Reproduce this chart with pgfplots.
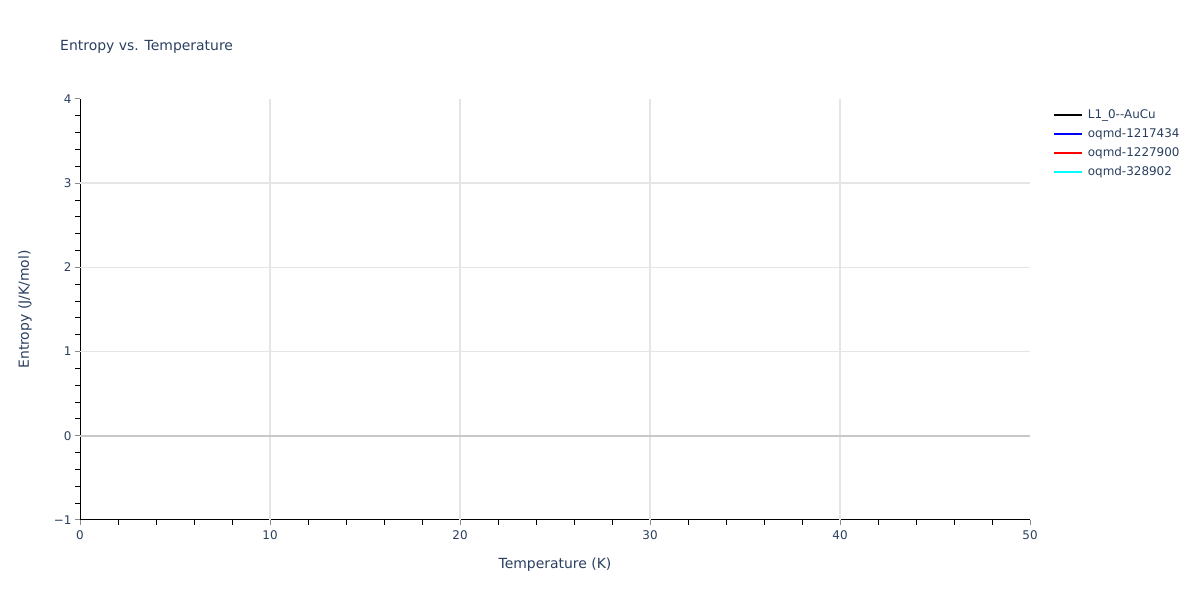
\documentclass[border=0pt]{standalone}
\usepackage{pgfplots}
\pgfplotsset{compat=1.18}
\usepackage{fontspec}
\setmainfont{DejaVu Sans}
\definecolor{plotlytext}{HTML}{2A3F5F}
\definecolor{gridgray}{HTML}{E5E5E5}
\definecolor{zerogray}{HTML}{C8C8C8}
\definecolor{tickgray}{HTML}{8A8A8A}
\definecolor{lineblack}{RGB}{0,0,0}
\definecolor{lineblue}{RGB}{0,0,255}
\definecolor{linered}{RGB}{255,0,0}
\definecolor{linecyan}{RGB}{0,255,255}
\begin{document}
\begin{tikzpicture}[x=1bp,y=1bp]
\path[use as bounding box] (0,0) rectangle (1200,600);
\begin{axis}[
  at={(80bp,80bp)}, anchor=south west,
  scale only axis, width=950bp, height=421bp,
  xmin=0, xmax=50, ymin=-1, ymax=4,
  axis x line*=bottom, axis y line*=left,
  axis line style={black, line width=1bp, -},
  xtick={0,10,...,50}, minor x tick num=4,
  ytick={-1,0,...,4}, minor y tick num=4,
  yticklabels={−1,0,1,2,3,4},
  tick align=outside,
  major tick length=5bp, minor tick length=5bp,
  major tick style={tickgray, line width=1bp},
  minor tick style={black, line width=1bp},
  extra x ticks={10,20,30,40}, extra x tick labels={},
  extra y ticks={1,2,3}, extra y tick labels={},
  extra tick style={grid=major, major tick length=0bp,
    major grid style={gridgray, line width=1.5bp}},
  /pgf/number format/assume math mode=true,
  ticklabel style={font=\fontsize{12}{14}\selectfont, text=plotlytext},
  xticklabel style={yshift=-2bp},
  xlabel={Temperature (K)},
  ylabel={Entropy (J/K/mol)},
  label style={font=\fontsize{14}{16}\selectfont, text=plotlytext},
  xlabel style={at={(axis description cs:0.5,-0.107)}, anchor=center},
  ylabel style={at={(axis description cs:-0.0579,0.5)}, anchor=center},
  legend style={at={(axis description cs:1.021,0.984)}, anchor=north west,
    draw=none, fill=none, font=\fontsize{12}{14}\selectfont,
    text=plotlytext, row sep=4bp,
    nodes={inner sep=1.5bp, text height=9bp, text depth=3bp}},
  legend cell align=left,
  legend image code/.code={\draw[#1, line width=2bp] (0bp,0bp) -- (28bp,0bp);
    \path (32bp,0bp);},
]
\draw[zerogray, line width=2bp] (axis cs:0,0) -- (axis cs:50,0);
\addlegendimage{lineblack}
\addlegendentry{L1\_0-{}-AuCu}
\addlegendimage{lineblue}
\addlegendentry{oqmd-1217434}
\addlegendimage{linered}
\addlegendentry{oqmd-1227900}
\addlegendimage{linecyan}
\addlegendentry{oqmd-328902}
\end{axis}
\node[anchor=west, font=\fontsize{14}{16}\selectfont, text=plotlytext, inner sep=0pt] at (60,553) {Entropy vs. Temperature};
\end{tikzpicture}
\end{document}
